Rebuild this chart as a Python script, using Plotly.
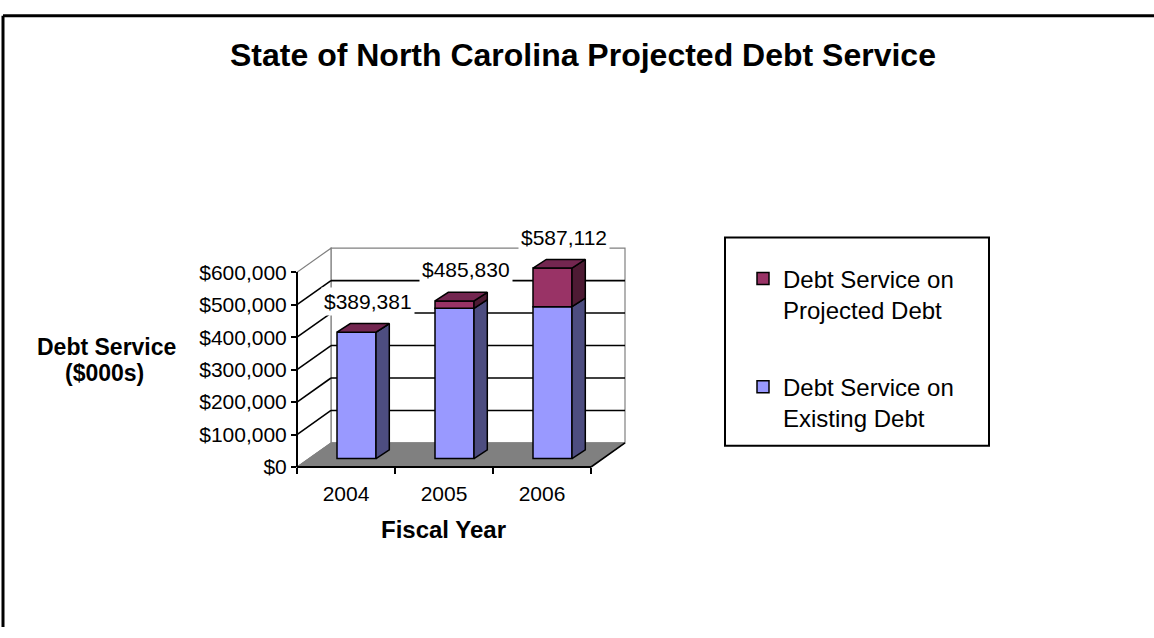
import plotly.graph_objects as go

# ---------------- data ----------------
years = ["2004", "2005", "2006"]
existing_debt = [389381, 463000, 468000]
projected_debt = [0, 22830, 119112]
totals = [389381, 485830, 587112]
y_ticks = [0, 100000, 200000, 300000, 400000, 500000, 600000]
series_names = ["Debt Service on<br>Existing Debt", "Debt Service on<br>Projected Debt"]

# ---------------- geometry / style ----------------
W, H = 1154, 638
FONT = "Liberation Sans, Arial, sans-serif"
FRONT_LEFT_PX = 297      # px of front value axis
FRONT_BOTTOM_PX = 472    # px of $0 on front plane
FRONT_TOP_PX = 270       # px of y max on front plane
CAT_PX = 98              # px per category on front plane
Y_MAX = y_ticks[-1]
PXY = (FRONT_BOTTOM_PX - FRONT_TOP_PX) / Y_MAX   # px per dollar

DEPTH_DX, DEPTH_DY = 34, 25          # wall depth (px)
BAR_OFF_DX, BAR_OFF_DY = 10.5, 8.7   # bar front face offset into depth (px)
BAR_W = 39                            # bar width (px)
BAR_DDX, BAR_DDY = 13.3, 9            # bar depth (px)

EXIST_FRONT, EXIST_SIDE = "#9999FF", "#4D4D80"
PROJ_FRONT, PROJ_SIDE, PROJ_TOP = "#993366", "#4D1A33", "#732650"
FLOOR = "#808080"
WALL_LINE = "#808080"


def dxu(px):
    return px / CAT_PX


def dyu(px):
    return px / PXY


def px2paper_x(px):
    return px / W


def px2paper_y(py):
    return 1 - py / H


n = len(years)
x_left = -0.5
x_right = n - 0.5
x_range = [x_left - FRONT_LEFT_PX / CAT_PX, x_left + (W - FRONT_LEFT_PX) / CAT_PX]
y_range = [-(H - FRONT_BOTTOM_PX) / PXY, FRONT_BOTTOM_PX / PXY]

dX, dY = dxu(DEPTH_DX), dyu(DEPTH_DY)
bdx, bdy = dxu(BAR_DDX), dyu(BAR_DDY)
base0 = dyu(BAR_OFF_DY)
centers = [i + dxu(BAR_OFF_DX) for i in range(n)]
half_w = dxu(BAR_W) / 2

fig = go.Figure()

# ---------------- walls, floor, gridlines (shapes) ----------------
shapes = []
# back wall
shapes.append(dict(type="rect", xref="x", yref="y", x0=x_left + dX, x1=x_right + dX,
                   y0=dY, y1=Y_MAX + dY, fillcolor="white",
                   line=dict(color=WALL_LINE, width=1.2), layer="below"))
# left side wall
shapes.append(dict(type="path", xref="x", yref="y",
                   path=f"M{x_left},{0} L{x_left + dX},{dY} L{x_left + dX},{Y_MAX + dY} L{x_left},{Y_MAX} Z",
                   fillcolor="white", line=dict(color=WALL_LINE, width=1.2), layer="below"))
# floor
shapes.append(dict(type="path", xref="x", yref="y",
                   path=f"M{x_left},0 L{x_right},0 L{x_right + dX},{dY} L{x_left + dX},{dY} Z",
                   fillcolor=FLOOR, line=dict(color=WALL_LINE, width=1), layer="below"))
# gridlines
for v in y_ticks[1:-1]:
    shapes.append(dict(type="line", xref="x", yref="y", x0=x_left, y0=v, x1=x_left + dX, y1=v + dY,
                       line=dict(color="black", width=1.6), layer="below"))
    shapes.append(dict(type="line", xref="x", yref="y", x0=x_left + dX, y0=v + dY, x1=x_right + dX, y1=v + dY,
                       line=dict(color="black", width=1.6), layer="below"))
# floor right edge
shapes.append(dict(type="line", xref="x", yref="y", x0=x_right, y0=0, x1=x_right + dX, y1=dY,
                   line=dict(color="black", width=1.6), layer="below"))
# legend box
shapes.append(dict(type="rect", xref="paper", yref="paper",
                   x0=px2paper_x(725), x1=px2paper_x(989), y0=px2paper_y(450), y1=px2paper_y(234),
                   fillcolor="white", line=dict(color="black", width=2), layer="below"))
# outer chart border (only top and left edges visible in the frame)
shapes.append(dict(type="line", xref="paper", yref="paper",
                   x0=px2paper_x(3), x1=1, y0=px2paper_y(4), y1=px2paper_y(4),
                   line=dict(color="black", width=3)))
shapes.append(dict(type="line", xref="paper", yref="paper",
                   x0=px2paper_x(3), x1=px2paper_x(3), y0=0, y1=px2paper_y(4),
                   line=dict(color="black", width=3)))

# ---------------- bars ----------------
exist_base = [base0] * n
proj_base = [base0 + e for e in existing_debt]

fig.add_trace(go.Bar(x=centers, y=existing_debt, base=exist_base, width=dxu(BAR_W),
                     marker=dict(color=EXIST_FRONT, line=dict(color="black", width=1.5)),
                     name=series_names[0], legendrank=2, legendgroup="e",
                     hoverinfo="skip", xaxis="x", yaxis="y"))
fig.add_trace(go.Bar(x=centers, y=projected_debt, base=proj_base, width=dxu(BAR_W),
                     marker=dict(color=PROJ_FRONT, line=dict(color="black", width=1.5)),
                     name=series_names[1], legendrank=1, legendgroup="p",
                     hoverinfo="skip", xaxis="x", yaxis="y"))


def side_poly(bottoms, tops):
    xs, ys = [], []
    for c, b, t in zip(centers, bottoms, tops):
        xr = c + half_w
        xs += [xr, xr + bdx, xr + bdx, xr, xr, None]
        ys += [b, b + bdy, t + bdy, t, b, None]
    return xs, ys


def top_poly(tops):
    xs, ys = [], []
    for c, t in zip(centers, tops):
        xl, xr = c - half_w, c + half_w
        xs += [xl, xr, xr + bdx, xl + bdx, xl, None]
        ys += [t, t, t + bdy, t + bdy, t, None]
    return xs, ys


ex_tops = [b + v for b, v in zip(exist_base, existing_debt)]
pr_tops = [b + v for b, v in zip(proj_base, projected_debt)]

sx, sy = side_poly(exist_base, ex_tops)
fig.add_trace(go.Scatter(x=sx, y=sy, fill="toself", fillcolor=EXIST_SIDE, mode="lines",
                         line=dict(color="black", width=1.5), showlegend=False, hoverinfo="skip"))
sx, sy = side_poly(proj_base, pr_tops)
fig.add_trace(go.Scatter(x=sx, y=sy, fill="toself", fillcolor=PROJ_SIDE, mode="lines",
                         line=dict(color="black", width=1.5), showlegend=False, hoverinfo="skip"))
tx, ty = top_poly(pr_tops)
fig.add_trace(go.Scatter(x=tx, y=ty, fill="toself", fillcolor=PROJ_TOP, mode="lines",
                         line=dict(color="black", width=1.5), showlegend=False, hoverinfo="skip"))

# dummy trace so the front axes render
fig.add_trace(go.Scatter(x=years, y=[None] * n, xaxis="x2", yaxis="y2",
                         showlegend=False, hoverinfo="skip"))

# ---------------- annotations ----------------
annotations = []
for c, t, v in zip(centers, pr_tops, totals):
    annotations.append(dict(x=c, y=t, xref="x", yref="y", text=f"${v:,}", showarrow=False,
                            xanchor="center", yanchor="middle", xshift=11, yshift=31,
                            bgcolor="white", borderpad=2,
                            font=dict(family=FONT, size=21, color="black")))
annotations.append(dict(x=px2paper_x(582.5), y=px2paper_y(45), xref="paper", yref="paper",
                        text="<b>State of North Carolina Projected Debt Service</b>", showarrow=False,
                        xanchor="center", yanchor="middle",
                        font=dict(family=FONT, size=32, color="black")))
annotations.append(dict(x=px2paper_x(106), y=px2paper_y(348), xref="paper", yref="paper",
                        text="<b>Debt Service</b>", showarrow=False,
                        xanchor="center", yanchor="middle",
                        font=dict(family=FONT, size=23, color="black")))
annotations.append(dict(x=px2paper_x(104), y=px2paper_y(375), xref="paper", yref="paper",
                        text="<b>($000s)</b>", showarrow=False,
                        xanchor="center", yanchor="middle",
                        font=dict(family=FONT, size=23, color="black")))
annotations.append(dict(x=px2paper_x(444), y=px2paper_y(537), xref="paper", yref="paper",
                        text="<b>Fiscal Year</b>", showarrow=False,
                        xanchor="center", yanchor="middle",
                        font=dict(family=FONT, size=24, color="black")))

fig.update_layout(
    width=W, height=H,
    margin=dict(l=0, r=0, t=0, b=0),
    paper_bgcolor="white", plot_bgcolor="rgba(0,0,0,0)",
    barmode="overlay",
    font=dict(family=FONT, color="black"),
    shapes=shapes,
    annotations=annotations,
    xaxis=dict(domain=[0, 1], range=x_range, visible=False, fixedrange=True),
    yaxis=dict(domain=[0, 1], range=y_range, visible=False, fixedrange=True),
    xaxis2=dict(domain=[px2paper_x(FRONT_LEFT_PX), px2paper_x(FRONT_LEFT_PX + n * CAT_PX)],
                anchor="free", position=px2paper_y(FRONT_BOTTOM_PX),
                type="category", categoryorder="array", categoryarray=years,
                range=[-0.5, n - 0.5], tickson="boundaries",
                showline=True, linecolor="black", linewidth=2,
                ticks="outside", ticklen=6, tickwidth=1.5, tickcolor="black",
                ticklabelstandoff=8,
                showgrid=False, zeroline=False,
                tickfont=dict(family=FONT, size=21, color="black"), fixedrange=True),
    yaxis2=dict(domain=[px2paper_y(FRONT_BOTTOM_PX), px2paper_y(FRONT_TOP_PX)],
                anchor="free", position=px2paper_x(FRONT_LEFT_PX),
                range=[0, Y_MAX], tickvals=y_ticks, tickformat="$,.0f",
                showline=True, linecolor="black", linewidth=2,
                ticks="outside", ticklen=5, tickwidth=1.5, tickcolor="black",
                showgrid=False, zeroline=False,
                tickfont=dict(family=FONT, size=21, color="black"), fixedrange=True),
    legend=dict(x=px2paper_x(743), y=px2paper_y(253.5), xanchor="left", yanchor="top",
                valign="top",
                bgcolor="rgba(0,0,0,0)", borderwidth=0, tracegroupgap=43,
                font=dict(family=FONT, size=24, color="black")),
    showlegend=True,
)

fig.write_html("out.html", config={"displayModeBar": False})
